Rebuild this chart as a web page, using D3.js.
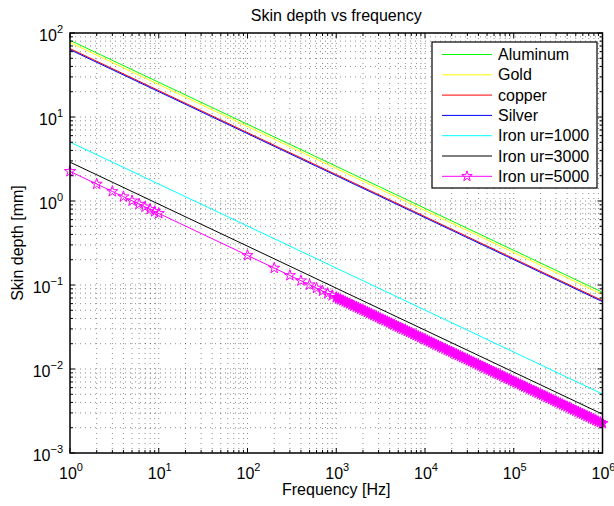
<!DOCTYPE html>
<html>
<head>
<meta charset="utf-8">
<script src="https://cdn.jsdelivr.net/npm/d3@7"></script>
<style>
  body { margin: 0; background: #fff; }
  text { font-family: "Liberation Sans", Arial, Helvetica, sans-serif; fill: #000; }
</style>
</head>
<body>
<div id="chart"></div>
<script>
// frequencies [Hz] for the plain lines (straight on log-log, so ends are enough)
const lineFreq = [1, 1e6];

// skin depth [mm] at 1 Hz and 1 MHz
const aluminum = [81.9, 0.0819];
const gold     = [77.0, 0.0770];
const copper   = [65.2, 0.0652];
const silver   = [63.3, 0.0633];
const iron1000 = [5.03, 0.00503];
const iron3000 = [2.90, 0.00290];

// iron ur=5000 is drawn with star markers, so keep its samples
const starFreq = [
  1, 2, 3, 4, 5, 6, 7, 8, 9, 10,
  100, 200, 300, 400, 500, 600, 700, 800, 900,
  1000, 1060, 1120, 1190, 1260, 1330, 1410, 1500, 1580, 1680,
  1780, 1880, 2000, 2110, 2240, 2370, 2510, 2660, 2820, 2990,
  3160, 3350, 3550, 3760, 3980, 4220, 4470, 4730, 5010, 5310,
  5620, 5960, 6310, 6680, 7080, 7500, 7940, 8410, 8910, 9440,
  10000, 10600, 11200, 11900, 12600, 13300, 14100, 15000, 15800, 16800,
  17800, 18800, 20000, 21100, 22400, 23700, 25100, 26600, 28200, 29900,
  31600, 33500, 35500, 37600, 39800, 42200, 44700, 47300, 50100, 53100,
  56200, 59600, 63100, 66800, 70800, 75000, 79400, 84100, 89100, 94400,
  100000, 106000, 112000, 119000, 126000, 133000, 141000, 150000, 158000, 168000,
  178000, 188000, 200000, 211000, 224000, 237000, 251000, 266000, 282000, 299000,
  316000, 335000, 355000, 376000, 398000, 422000, 447000, 473000, 501000, 531000,
  562000, 596000, 631000, 668000, 708000, 750000, 794000, 841000, 891000, 944000,
  1000000
];
const iron5000 = [
  2.25, 1.591, 1.299, 1.125, 1.006, 0.919, 0.850, 0.795, 0.750, 0.7115,
  0.225, 0.1591, 0.1299, 0.1125, 0.1006, 0.0919, 0.0850, 0.0795, 0.0750,
  0.0712, 0.0691, 0.0672, 0.0653, 0.0634, 0.0616, 0.0599, 0.0582, 0.0565, 0.0549,
  0.0534, 0.0518, 0.0504, 0.0490, 0.0476, 0.0462, 0.0449, 0.0436, 0.0424, 0.0412,
  0.0400, 0.0389, 0.0378, 0.0367, 0.0357, 0.0347, 0.0337, 0.0327, 0.0318, 0.0309,
  0.0300, 0.0292, 0.0283, 0.0275, 0.0268, 0.0260, 0.0252, 0.0245, 0.0238, 0.0232,
  0.0225, 0.02186, 0.02124, 0.02064, 0.02005, 0.01948, 0.01893, 0.01839, 0.01787, 0.01736,
  0.01687, 0.01639, 0.01593, 0.01548, 0.01504, 0.01461, 0.01420, 0.01379, 0.01340, 0.01302,
  0.01265, 0.01229, 0.01195, 0.01161, 0.01128, 0.01096, 0.01065, 0.01035, 0.01005, 0.00977,
  0.00949, 0.00922, 0.00896, 0.00871, 0.00846, 0.00822, 0.00798, 0.00776, 0.00754, 0.00732,
  0.00712, 0.00691, 0.00672, 0.00653, 0.00634, 0.00616, 0.00599, 0.00582, 0.00565, 0.00549,
  0.00534, 0.00518, 0.00504, 0.00490, 0.00476, 0.00462, 0.00449, 0.00436, 0.00424, 0.00412,
  0.00400, 0.00389, 0.00378, 0.00367, 0.00357, 0.00347, 0.00337, 0.00327, 0.00318, 0.00309,
  0.00300, 0.00292, 0.00283, 0.00275, 0.00268, 0.00260, 0.00252, 0.00245, 0.00238, 0.00232,
  0.00225
];

const seriesNames = ['Aluminum', 'Gold', 'copper', 'Silver', 'Iron ur=1000', 'Iron ur=3000', 'Iron ur=5000'];
const seriesColors = ['#00ff00', '#ffff00', '#ff0000', '#0000ff', '#00ffff', '#000000', '#ff00ff'];
const seriesVals = [aluminum, gold, copper, silver, iron1000, iron3000, iron5000];
const seriesFreq = [lineFreq, lineFreq, lineFreq, lineFreq, lineFreq, lineFreq, starFreq];

const xDomain = [1, 1e6];
const yDomain = [1e-3, 1e2];

const totalW = 614, totalH = 506;
const margin = {top: 33, right: 11.5, bottom: 53, left: 70};
const W = totalW - margin.left - margin.right;
const H = totalH - margin.top - margin.bottom;
const STAR = 38; // symbol area

const svg = d3.select('#chart').append('svg')
  .attr('width', totalW)
  .attr('height', totalH)
  .style('background-color', '#fff');

const g = svg.append('g')
  .attr('transform', 'translate(' + margin.left + ' ' + margin.top + ')');

const xscale = d3.scaleLog().domain(xDomain).range([0, W]);
const yscale = d3.scaleLog().domain(yDomain).range([H, 0]);

const xticks = xscale.ticks();
const yticks = yscale.ticks();
const isMajor = (v) => Math.abs(Math.log10(v) - Math.round(Math.log10(v))) < 1e-9;

// dotted grid, matlab style (major and minor look the same)
const grid = g.append('g').attr('class', 'grid')
  .attr('stroke', '#000')
  .attr('stroke-width', 1)
  .attr('stroke-opacity', 0.45)
  .attr('stroke-dasharray', '1,4');
grid.selectAll('.vg').data(xticks.filter((v) => v > xDomain[0] && v < xDomain[1]))
  .enter().append('line')
    .attr('x1', (d) => xscale(d)).attr('x2', (d) => xscale(d))
    .attr('y1', 0).attr('y2', H);
grid.selectAll('.hg').data(yticks.filter((v) => v > yDomain[0] && v < yDomain[1]))
  .enter().append('line')
    .attr('x1', 0).attr('x2', W)
    .attr('y1', (d) => yscale(d)).attr('y2', (d) => yscale(d));

// data lines
const line = d3.line()
  .x((d) => xscale(d[0]))
  .y((d) => yscale(d[1]));

seriesNames.forEach((name, i) => {
  const pts = seriesFreq[i].map((f, j) => [f, seriesVals[i][j]]);
  g.append('path')
    .datum(pts)
    .attr('fill', 'none')
    .attr('stroke', seriesColors[i])
    .attr('stroke-width', 1)
    .attr('d', line);
  if (i === 6) {
    // markers that sit on top of each other merge into a solid band
    const crowded = (d, j) => {
      const nb = pts[j + 1] || pts[j - 1];
      return Math.abs(xscale(nb[0]) - xscale(d[0])) < 4;
    };
    g.selectAll('.star').data(pts)
      .enter().append('path')
        .attr('class', 'star')
        .attr('transform', (d) => 'translate(' + xscale(d[0]) + ' ' + yscale(d[1]) + ')')
        .attr('d', d3.symbol(d3.symbolStar, STAR))
        .attr('fill', (d, j) => (crowded(d, j) ? seriesColors[i] : 'none'))
        .attr('stroke', seriesColors[i])
        .attr('stroke-width', 1);
  }
});

// box and inward ticks on all four sides
const axes = g.append('g').attr('stroke', '#000');
axes.append('rect')
  .attr('x', 0).attr('y', 0).attr('width', W).attr('height', H)
  .attr('fill', 'none').attr('stroke-width', 1.5);
const tlen = (v) => (isMajor(v) ? 5 : 3);
xticks.forEach((v) => {
  const x = xscale(v);
  axes.append('line').attr('x1', x).attr('x2', x).attr('y1', H).attr('y2', H - tlen(v));
  axes.append('line').attr('x1', x).attr('x2', x).attr('y1', 0).attr('y2', tlen(v));
});
yticks.forEach((v) => {
  const y = yscale(v);
  axes.append('line').attr('x1', 0).attr('x2', tlen(v)).attr('y1', y).attr('y2', y);
  axes.append('line').attr('x1', W).attr('x2', W - tlen(v)).attr('y1', y).attr('y2', y);
});

// tick labels as 10^n
function powLabel(sel, v) {
  const e = Math.round(Math.log10(v));
  sel.append('tspan').text('10');
  sel.append('tspan').text(e < 0 ? '\u2212' + (-e) : e)
    .attr('dy', -8).attr('font-size', 11);
}
xticks.filter(isMajor).forEach((v) => {
  const t = g.append('text')
    .attr('x', xscale(v) + 1)
    .attr('y', H + 26)
    .attr('font-size', 16)
    .attr('text-anchor', 'middle');
  powLabel(t, v);
});
yticks.filter(isMajor).forEach((v) => {
  const t = g.append('text')
    .attr('x', -7)
    .attr('y', yscale(v) + 8)
    .attr('font-size', 16)
    .attr('text-anchor', 'end');
  powLabel(t, v);
});

// titles
svg.append('text')
  .attr('x', margin.left + W / 2).attr('y', 21)
  .attr('font-size', 16).attr('text-anchor', 'middle')
  .text('Skin depth vs frequency');
svg.append('text')
  .attr('x', margin.left + W / 2).attr('y', 495)
  .attr('font-size', 16).attr('text-anchor', 'middle')
  .text('Frequency [Hz]');
svg.append('text')
  .attr('transform', 'translate(23 ' + (margin.top + H / 2) + ') rotate(-90)')
  .attr('font-size', 16).attr('text-anchor', 'middle')
  .text('Skin depth [mm]');

// legend
const leg = svg.append('g').attr('transform', 'translate(432 42)');
leg.append('rect')
  .attr('width', 165).attr('height', 146)
  .attr('fill', '#fff').attr('stroke', '#000').attr('stroke-width', 1.2);
seriesNames.forEach((name, i) => {
  const y = 18 + i * 20.3;
  leg.append('line')
    .attr('x1', 10).attr('x2', 60)
    .attr('y1', y - 5.5).attr('y2', y - 5.5)
    .attr('stroke', seriesColors[i]).attr('stroke-width', 1);
  if (i === 6) {
    leg.append('path')
      .attr('transform', 'translate(35 ' + (y - 5.5) + ')')
      .attr('d', d3.symbol(d3.symbolStar, 34))
      .attr('fill', 'none').attr('stroke', seriesColors[i]);
  }
  leg.append('text')
    .attr('x', 66).attr('y', y)
    .attr('font-size', 16)
    .text(name);
});
</script>
</body>
</html>
